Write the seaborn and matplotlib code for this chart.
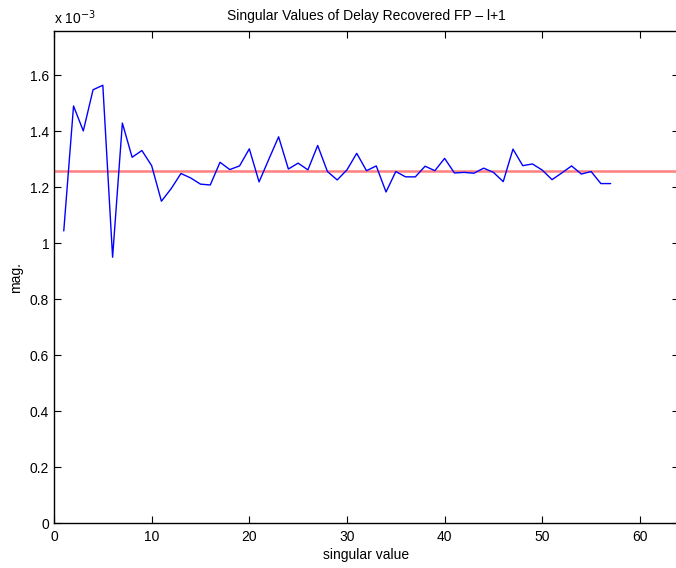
import pandas as pd
import matplotlib
matplotlib.use("Agg")
import matplotlib.pyplot as plt
import matplotlib.ticker as mticker
import seaborn as sns

# singular values (x 10^-3), index 1..57
idx = list(range(1, 58))
mag = [1.044, 1.490, 1.401, 1.548, 1.564, 0.950, 1.429, 1.307, 1.331, 1.277,
       1.150, 1.195, 1.249, 1.233, 1.211, 1.208, 1.289, 1.263, 1.276, 1.337,
       1.219, 1.300, 1.380, 1.265, 1.286, 1.262, 1.349, 1.256, 1.226, 1.262,
       1.321, 1.259, 1.276, 1.183, 1.256, 1.237, 1.237, 1.275, 1.259, 1.303,
       1.251, 1.253, 1.250, 1.268, 1.253, 1.220, 1.336, 1.277, 1.283, 1.261,
       1.227, 1.251, 1.276, 1.247, 1.256, 1.213, 1.213]
mean_level = 1.258

data = pd.DataFrame({"sv": idx, "mag": mag})

sns.set_style("ticks")
plt.rcParams["font.family"] = ["Liberation Sans", "DejaVu Sans"]
plt.rcParams["text.color"] = "black"
plt.rcParams["axes.labelcolor"] = "black"
plt.rcParams["xtick.color"] = "black"
plt.rcParams["ytick.color"] = "black"

fig = plt.figure(figsize=(6.76, 5.68), dpi=100)
ax = fig.add_axes([54 / 676, (568 - 523.3) / 568, 625 / 676, 491.8 / 568])

sns.lineplot(data=data, x="sv", y="mag", ax=ax, color="#0000ff", linewidth=1.0)
ax.axhline(mean_level, color="#ff7f7f", linewidth=1.8, zorder=1)

ax.set_xlim(0, 64)
ax.set_ylim(0, 1.756)
ax.set_xticks(range(0, 61, 10))
ax.set_yticks([0, 0.2, 0.4, 0.6, 0.8, 1.0, 1.2, 1.4, 1.6])
ax.yaxis.set_major_formatter(mticker.FormatStrFormatter("%g"))
ax.tick_params(direction="in", length=5, width=0.8, top=True, right=True,
               labelsize=10, colors="black")
ax.tick_params(axis="x", pad=5)
ax.tick_params(axis="y", pad=3.5)
for s in ax.spines.values():
    s.set_linewidth(1.0)
    s.set_color("black")

ax.set_xlabel("singular value", fontsize=10, labelpad=3)
ax.set_ylabel("mag.", fontsize=10, labelpad=5)
ax.set_title("Singular Values of Delay Recovered FP \u2013 l+1", fontsize=10, pad=8.5)
fig.text(54 / 676, 1 - 24 / 568, "x 10$^{-3}$", fontsize=10, va="baseline", ha="left")

fig.savefig("out.png", dpi=100)
